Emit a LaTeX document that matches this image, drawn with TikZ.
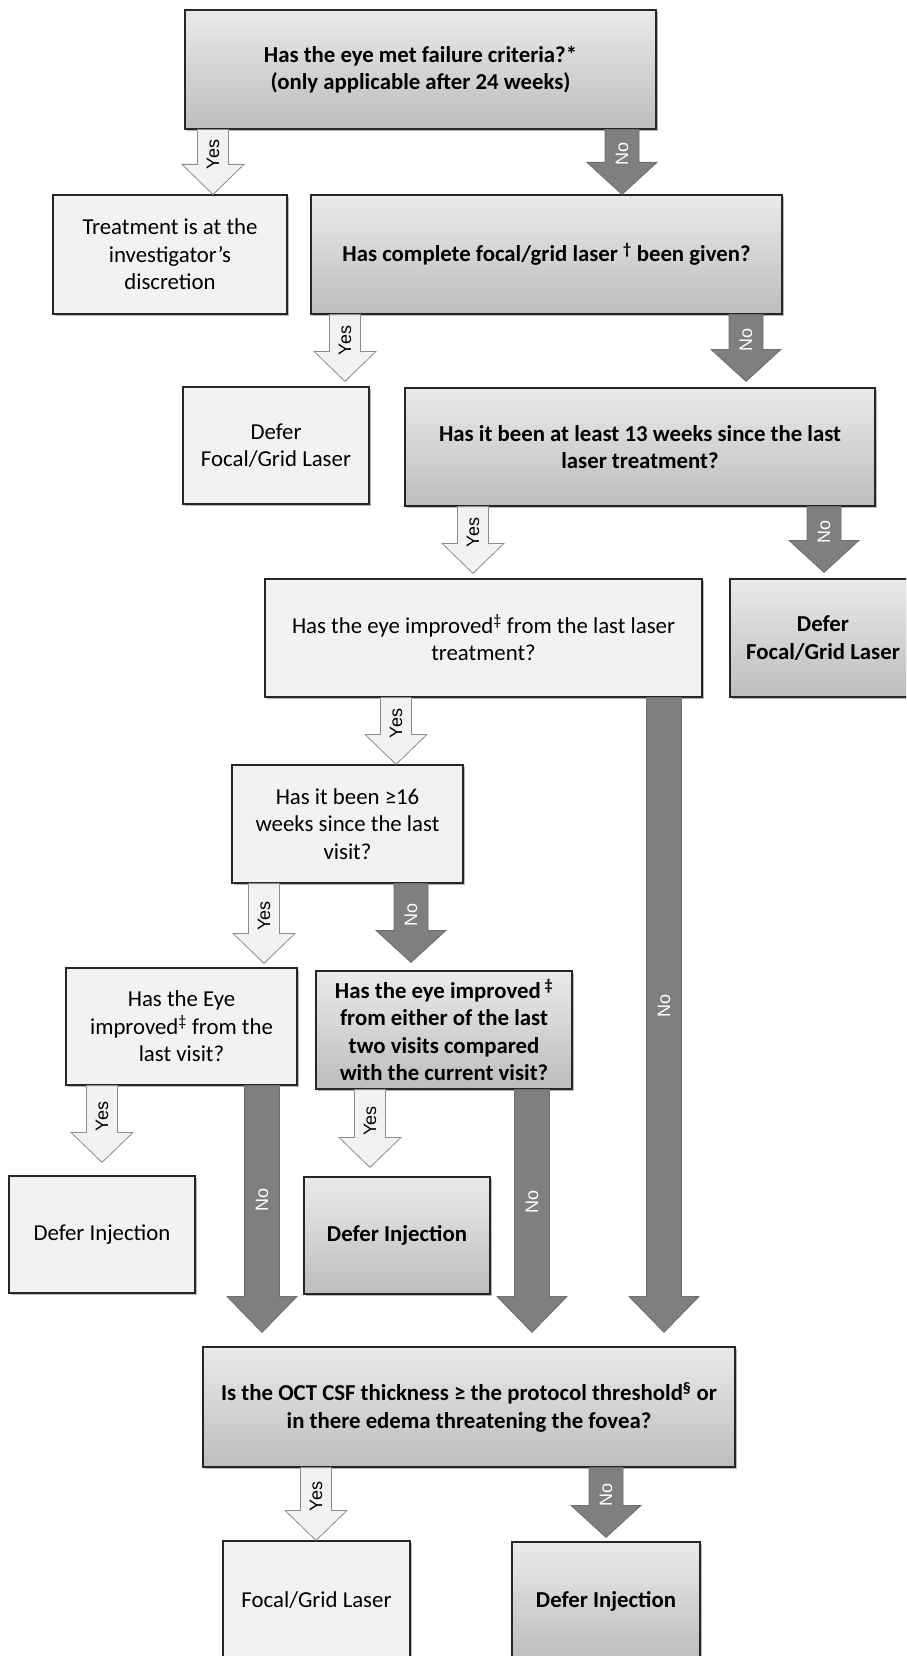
\documentclass[tikz,border=0pt]{standalone}
\usepackage{fontspec}
\setmainfont{Carlito}
\newfontfamily\lblfont{Liberation Sans}
\usetikzlibrary{calc,shadows}
\definecolor{lightfill}{HTML}{F2F2F2}
\definecolor{gtop}{HTML}{EAEAEA}
\definecolor{gbot}{HTML}{BDBDBD}
\definecolor{arrline}{HTML}{8C8C8C}
\definecolor{darkfill}{HTML}{7F7F7F}
\definecolor{darkline}{HTML}{6E6E6E}
\tikzset{
 box/.style={rectangle, draw=black!85, line width=1.2pt, align=center, inner sep=2pt,
   drop shadow={shadow xshift=1.5pt, shadow yshift=-2pt, opacity=0.28, fill=black}},
 lbox/.style={box, fill=lightfill, font=\fontsize{22.8}{27.5}\selectfont},
 gbox/.style={box, top color=gtop, bottom color=gbot, font=\fontsize{22.8}{27.5}\selectfont\bfseries},
 Yesarr/.style={fill=lightfill, draw=arrline, line width=0.8pt, line join=miter},
 Noarr/.style={fill=darkfill, draw=darkline, line width=0.8pt, line join=miter},
 Yeslbl/.style={rotate=90, font=\lblfont\fontsize{18}{18}\selectfont, text=black, inner sep=0pt},
 Nolbl/.style={rotate=90, font=\lblfont\fontsize{18}{18}\selectfont, text=white, inner sep=0pt},
}
% #1 x, #2 source, #3 target, #4 gap, #5 half shaft, #6 half head, #7 head length, #8 Yes/No
\newcommand\barrow[8]{%
 \path[#8arr] let \p1=(#2.south), \p2=(#3.north) in
   ({#1pt-#5pt},\y1) -- ({#1pt+#5pt},\y1) -- ({#1pt+#5pt},{\y2+#4pt+#7pt})
   -- ({#1pt+#6pt},{\y2+#4pt+#7pt}) -- ({#1pt},{\y2+#4pt})
   -- ({#1pt-#6pt},{\y2+#4pt+#7pt}) -- ({#1pt-#5pt},{\y2+#4pt+#7pt}) -- cycle;
 \path let \p1=(#2.south), \p2=(#3.north) in
   node[#8lbl] at ({#1pt},{(\y1+\y2+#4pt+#7pt/2)/2}) {#8};
}
\newcommand\yesarr[4]{\barrow{#1}{#2}{#3}{#4}{15.5}{31}{30}{Yes}}
\newcommand\noarr[4]{\barrow{#1}{#2}{#3}{#4}{17}{35}{32}{No}}
\newcommand\nolong[4]{\barrow{#1}{#2}{#3}{#4}{17.5}{35}{36}{No}}
\begin{document}
\begin{tikzpicture}[x=1pt,y=-1pt]
\useasboundingbox (0,0) rectangle (906,1656);
\clip (0,0) rectangle (906,1656);
\fill[white] (0,0) rectangle (906,1656);

\node[gbox, minimum width=471pt, minimum height=119pt] (q1) at (420.5,69.5)
  {Has the eye met failure criteria?*\\(only applicable after 24 weeks)};
\node[lbox, minimum width=234pt, minimum height=119pt] (disc) at (170,254.5)
  {Treatment is at the\\investigator’s\\discretion};
\node[gbox, minimum width=471pt, minimum height=119pt] (q2) at (546.5,254.5)
  {Has complete focal/grid laser \textsuperscript{†} been given?};
\node[lbox, minimum width=186pt, minimum height=117pt] (defer1) at (276,445.5)
  {Defer\\Focal/Grid Laser};
\node[gbox, minimum width=470pt, minimum height=118pt] (q3) at (640,447)
  {Has it been at least 13 weeks since the last\\laser treatment?};
\node[lbox, minimum width=437pt, minimum height=118pt] (q4) at (483.5,638)
  {Has the eye improved\textsuperscript{‡} from the last laser\\treatment?};
\node[gbox, minimum width=186pt, minimum height=118pt] (defer2) at (823,638)
  {Defer\\Focal/Grid Laser};
\node[lbox, minimum width=231pt, minimum height=118pt] (q5) at (347.5,824)
  {Has it been ≥16\\weeks since the last\\visit?};
\node[lbox, minimum width=231pt, minimum height=117pt] (q6) at (181.5,1026.5)
  {Has the Eye\\improved\textsuperscript{‡} from the\\last visit?};
\node[gbox, minimum width=256pt, minimum height=118pt] (q7) at (444,1030)
  {Has the eye improved\,\textsuperscript{‡}\\from either of the last\\two visits compared\\with the current visit?};
\node[lbox, minimum width=186pt, minimum height=117pt] (di1) at (102,1234.5)
  {Defer Injection};
\node[gbox, minimum width=186pt, minimum height=117pt] (di2) at (397,1235.5)
  {Defer Injection};
\node[gbox, minimum width=532pt, minimum height=120pt] (q8) at (469,1407)
  {Is the OCT CSF thickness ≥ the protocol threshold\textsuperscript{§} or\\in there edema threatening the fovea?};
\node[lbox, minimum width=187pt, minimum height=118pt] (fgl) at (316.5,1600)
  {Focal/Grid Laser};
\node[gbox, minimum width=188pt, minimum height=118pt] (di3) at (606,1601)
  {Defer Injection};

\yesarr{213}{q1}{disc}{0}
\noarr{622}{q1}{q2}{0}
\yesarr{345}{q2}{defer1}{5}
\noarr{746}{q2}{q3}{6}
\yesarr{473}{q3}{q4}{5}
\noarr{824}{q3}{defer2}{6}
\yesarr{396}{q4}{q5}{0}
\nolong{664}{q4}{q8}{14}
\yesarr{264}{q5}{q6}{4}
\noarr{411}{q5}{q7}{8}
\yesarr{102}{q6}{di1}{13}
\nolong{262}{q6}{q8}{14}
\yesarr{370}{q7}{di2}{9}
\nolong{532}{q7}{q8}{14}
\yesarr{316}{q8}{fgl}{0}
\noarr{606}{q8}{di3}{4}
\end{tikzpicture}
\end{document}
